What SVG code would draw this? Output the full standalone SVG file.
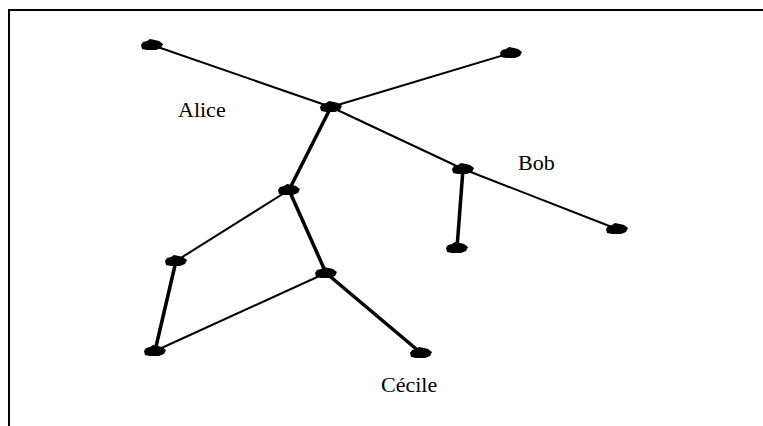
<svg xmlns="http://www.w3.org/2000/svg" xmlns:xlink="http://www.w3.org/1999/xlink" width="763" height="426" viewBox="0 0 763 426">
<style>
.frame{fill:none;stroke:#000;stroke-width:2}
.thin{stroke:#000;stroke-width:2;fill:none}
.thick{stroke:#000;stroke-width:3.5;fill:none}
.lbl{font-family:"Liberation Serif","Times New Roman",serif;font-size:22px;fill:#000}
.nd{fill:#000}
</style>
<defs>
<path id="blob" class="nd" d="M-11,0 L-9,-3 L-5,-4 L-2,-6 L3,-5 L7,-4 L11,-1 L9,3 L4,5 L-5,5 L-10,4 Z"/>
</defs>
<rect width="763" height="426" fill="#fff"/>
<path class="frame" d="M9,426 L9,10 L763,10"/>
<g id="connectors">
<line class="thin" x1="152" y1="45" x2="331" y2="107"/>
<line class="thin" x1="511" y1="53" x2="331" y2="107"/>
<line class="thin" x1="331" y1="107" x2="463" y2="169"/>
<line class="thin" x1="463" y1="169" x2="617" y2="229"/>
<line class="thick" x1="331" y1="107" x2="289" y2="190"/>
<line class="thick" x1="463" y1="169" x2="457" y2="248"/>
<line class="thin" x1="289" y1="190" x2="176" y2="261"/>
<line class="thick" x1="289" y1="190" x2="326" y2="273"/>
<line class="thick" x1="176" y1="261" x2="155" y2="351"/>
<line class="thin" x1="155" y1="351" x2="326" y2="273"/>
<line class="thick" x1="326" y1="273" x2="421" y2="353"/>
</g>
<g id="n1"><use xlink:href="#blob" transform="translate(152,45)"/></g>
<g id="n2"><use xlink:href="#blob" transform="translate(511,53)"/></g>
<g id="n3"><use xlink:href="#blob" transform="translate(331,107)"/></g>
<g id="n4"><use xlink:href="#blob" transform="translate(463,169)"/></g>
<g id="n5"><use xlink:href="#blob" transform="translate(289,190)"/></g>
<g id="n6"><use xlink:href="#blob" transform="translate(617,229)"/></g>
<g id="n7"><use xlink:href="#blob" transform="translate(457,248)"/></g>
<g id="n8"><use xlink:href="#blob" transform="translate(176,261)"/></g>
<g id="n9"><use xlink:href="#blob" transform="translate(326,273)"/></g>
<g id="n10"><use xlink:href="#blob" transform="translate(155,351)"/></g>
<g id="n11"><use xlink:href="#blob" transform="translate(421,353)"/></g>
<g id="labels">
<text class="lbl" x="178" y="117">Alice</text>
<text class="lbl" x="518" y="170">Bob</text>
<text class="lbl" x="381" y="392">Cécile</text>
</g>
</svg>
